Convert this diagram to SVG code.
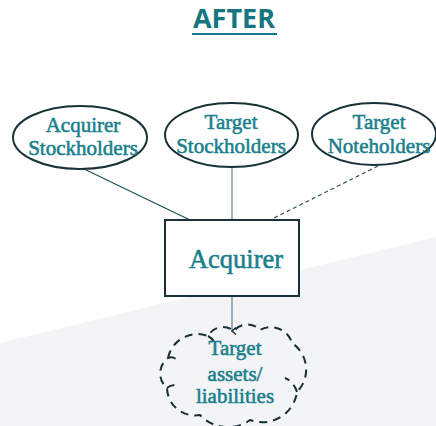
<svg xmlns="http://www.w3.org/2000/svg" width="436" height="426" viewBox="0 0 436 426">
<style>
.node-text{font-family:"Liberation Serif","DejaVu Serif",serif;fill:#1a7f8c;text-anchor:middle;stroke:#1a7f8c;stroke-width:0.55}
.ell{fill:#fff;stroke:#173238;stroke-width:2}
.conn{fill:none;stroke-width:1.2}
</style>
<defs>
<marker id="arr" markerWidth="8" markerHeight="8" refX="4" refY="6" orient="auto" markerUnits="userSpaceOnUse">
<path d="M0.5,2 L4,6 L7.5,2" fill="none" stroke="#1a2e35" stroke-width="1.5"/>
</marker>
</defs>
<rect width="436" height="426" fill="#fff"/>
<polygon points="0,343 436,237 436,426 0,426" fill="#f3f4f6"/>
<g id="title">
<text x="234" y="28" font-family="Open Sans, Liberation Sans, sans-serif" font-weight="bold" font-size="27" fill="#157580" text-anchor="middle">AFTER</text>
<rect x="192" y="33" width="85" height="2" fill="#157580"/>
</g>
<g id="connectors">
<line class="conn" x1="82" y1="168" x2="190" y2="220" stroke="#1f4f58"/>
<line class="conn" x1="232" y1="167" x2="232" y2="220" stroke="#5e7f8a" stroke-width="1.5"/>
<line class="conn" x1="378" y1="166" x2="270" y2="220" stroke="#2a5560" stroke-dasharray="4 3"/>
<line class="conn" x1="232" y1="297" x2="232" y2="331" stroke="#5e7f8a" stroke-width="1.5" marker-end="url(#arr)"/>
</g>
<g id="acquirer-stockholders">
<ellipse class="ell" cx="80" cy="137.5" rx="67" ry="31.5"/>
<text class="node-text" font-size="21"><tspan x="83" y="132">Acquirer</tspan><tspan x="83" y="155">Stockholders</tspan></text>
</g>
<g id="target-stockholders">
<ellipse class="ell" cx="231.5" cy="135" rx="66.5" ry="32"/>
<text class="node-text" font-size="21"><tspan x="231" y="129">Target</tspan><tspan x="231" y="153">Stockholders</tspan></text>
</g>
<g id="target-noteholders">
<ellipse class="ell" cx="374" cy="134" rx="62" ry="31"/>
<text class="node-text" font-size="21"><tspan x="379" y="129">Target</tspan><tspan x="379" y="153">Noteholders</tspan></text>
</g>
<g id="acquirer">
<rect x="165" y="220" width="134" height="76" fill="#fff" stroke="#173238" stroke-width="2"/>
<text class="node-text" font-size="26.5" x="236" y="268" stroke-width="0.7">Acquirer</text>
</g>
<g id="target-assets">
<path d="M168,358 A30,30 0 0 1 208,336 A17,17 0 0 1 234,331 A17,17 0 0 1 260,330 A22,22 0 0 1 292,343 A32,32 0 0 1 297,392 A35,35 0 0 1 250,420 A38,38 0 0 1 200,415 A28,28 0 0 1 167,388 A19,19 0 0 1 168,358 Z M168,358 q4,-2 8,1 M167,388 q5,-4 10,-2 M297,392 q-3,-10 -12,-14 M208,336 q4,2 6,6" fill="none" stroke="#1a2e35" stroke-width="2" stroke-dasharray="8 6"/>
<text class="node-text" font-size="21"><tspan x="235" y="355">Target</tspan><tspan x="235" y="381">assets/</tspan><tspan x="235" y="403">liabilities</tspan></text>
</g>
</svg>
